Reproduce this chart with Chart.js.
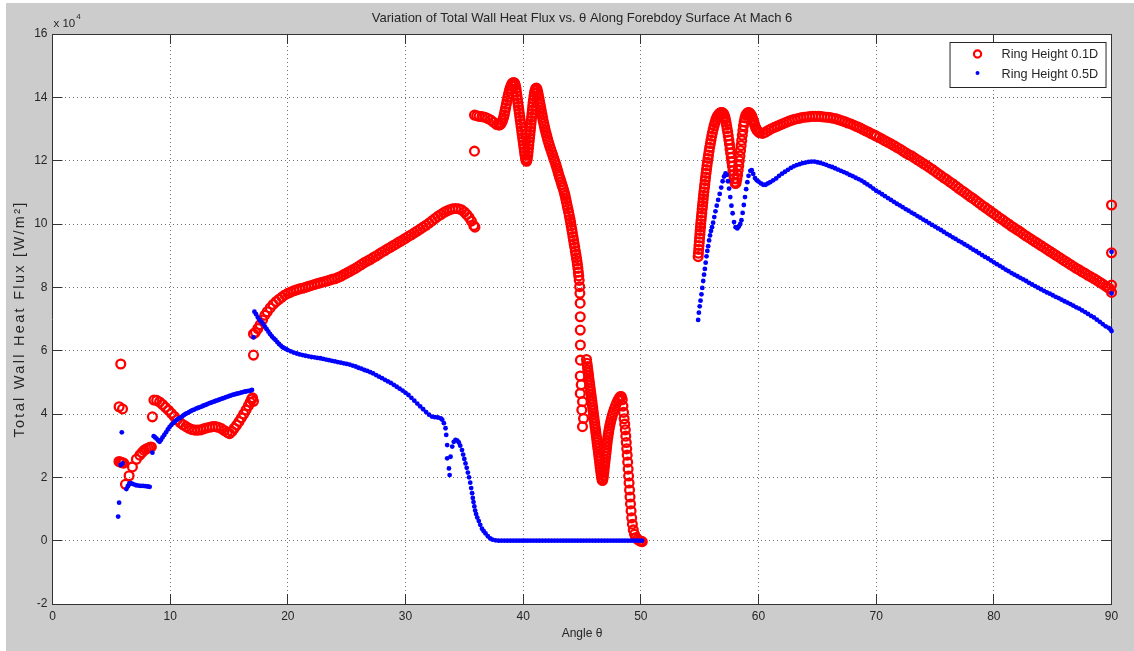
<!DOCTYPE html>
<html>
<head>
<meta charset="utf-8">
<script src="https://cdn.jsdelivr.net/npm/chart.js@4.4.1/dist/chart.umd.min.js"></script>
<style>
  html, body { margin: 0; padding: 0; background: #ffffff; }
  canvas { display: block; }
</style>
</head>
<body>
<canvas id="c" width="1134" height="651"></canvas>
<script>
// ---------------- DATA (values in units of 10^4 W/m^2, angle in degrees) ----------------
const chartTitle = 'Variation of Total Wall Heat Flux vs. \u03B8 Along Forebdoy Surface At Mach 6';
const xAxisTitle = 'Angle \u03B8';
const yAxisTitle = 'Total Wall Heat Flux [W/m\u00B2]';
const yScaleNote = ['x 10', '4'];
const seriesLabels = ['Ring Height 0.1D', 'Ring Height 0.5D'];
const xTickValues = [0, 10, 20, 30, 40, 50, 60, 70, 80, 90];
const yTickValues = [-2, 0, 2, 4, 6, 8, 10, 12, 14, 16];

// Ring Height 0.1D (red open circles)
const red_near6 = [[5.80,5.58],[5.66,4.23],[5.95,4.16],[5.65,2.50],[5.78,2.48],[5.92,2.46],[6.05,2.45],[6.20,1.78],[6.51,2.05],[6.79,2.33],[7.13,2.57],[7.42,2.70],[7.60,2.78],[7.78,2.85],[7.95,2.89],[8.12,2.92],[8.28,2.95],[8.40,2.96],[8.49,3.91]];
const red_9to17 = [[8.62,4.44],[8.85,4.43],[9.10,4.38],[9.35,4.30],[9.60,4.21],[9.85,4.12],[10.10,4.02],[10.35,3.92],[10.60,3.82],[10.85,3.73],[11.10,3.66],[11.35,3.60],[11.60,3.55],[11.85,3.51],[12.10,3.49],[12.35,3.49],[12.60,3.50],[12.85,3.53],[13.10,3.56],[13.35,3.58],[13.60,3.60],[13.85,3.60],[14.10,3.58],[14.35,3.54],[14.60,3.48],[14.85,3.42],[15.05,3.38],[15.25,3.45],[15.45,3.55],[15.65,3.65],[15.85,3.76],[16.05,3.88],[16.25,4.00],[16.45,4.13],[16.65,4.26],[16.80,4.37],[16.92,4.47],[17.00,4.51],[17.08,4.40],[17.08,5.86]];
const red_17to36 = [[17.08,6.53],[17.25,6.58],[17.45,6.70],[17.65,6.82],[17.85,6.97],[18.05,7.12],[18.25,7.23],[18.50,7.35],[18.75,7.46],[19.00,7.55],[19.25,7.62],[19.50,7.69],[19.75,7.76],[20.00,7.81],[20.25,7.85],[20.50,7.89],[20.75,7.92],[21.00,7.95],[21.25,7.97],[21.50,8.00],[21.75,8.03],[22.00,8.06],[22.25,8.09],[22.50,8.12],[22.75,8.14],[23.00,8.17],[23.25,8.19],[23.50,8.22],[23.75,8.25],[24.00,8.27],[24.25,8.31],[24.50,8.35],[24.75,8.40],[25.00,8.45],[25.25,8.50],[25.50,8.55],[25.75,8.60],[26.00,8.66],[26.25,8.72],[26.50,8.78],[26.75,8.83],[27.00,8.88],[27.25,8.94],[27.50,8.99],[27.75,9.05],[28.00,9.11],[28.25,9.16],[28.50,9.22],[28.75,9.27],[29.00,9.33],[29.25,9.38],[29.50,9.44],[29.75,9.49],[30.00,9.55],[30.25,9.61],[30.50,9.66],[30.75,9.72],[31.00,9.78],[31.25,9.84],[31.50,9.90],[31.75,9.96],[32.00,10.03],[32.25,10.10],[32.50,10.17],[32.75,10.24],[33.00,10.30],[33.25,10.36],[33.50,10.41],[33.75,10.45],[34.00,10.48],[34.25,10.49],[34.50,10.48],[34.75,10.45],[35.00,10.38],[35.20,10.30],[35.40,10.21],[35.60,10.09],[35.80,9.95],[35.90,9.90]];
const red_36to45 = [[35.86,12.30],[35.86,13.44],[36.05,13.42],[36.25,13.40],[36.50,13.39],[36.75,13.37],[37.00,13.33],[37.25,13.28],[37.50,13.21],[37.75,13.14],[37.95,13.12],[38.05,13.14],[38.15,13.19],[38.24,13.26],[38.32,13.35],[38.39,13.45],[38.45,13.56],[38.51,13.67],[38.57,13.78],[38.63,13.89],[38.69,14.00],[38.75,14.10],[38.82,14.20],[38.89,14.29],[38.97,14.37],[39.05,14.43],[39.13,14.46],[39.21,14.47],[39.28,14.44],[39.34,14.37],[39.39,14.27],[39.43,14.16],[39.47,14.05],[39.51,13.94],[39.55,13.83],[39.59,13.72],[39.63,13.61],[39.67,13.50],[39.71,13.39],[39.75,13.28],[39.79,13.17],[39.83,13.06],[39.87,12.95],[39.91,12.84],[39.95,12.73],[39.99,12.62],[40.03,12.51],[40.07,12.40],[40.11,12.29],[40.15,12.18],[40.20,12.07],[40.25,12.00],[40.30,11.98],[40.35,12.06],[40.39,12.17],[40.42,12.28],[40.45,12.39],[40.48,12.50],[40.51,12.61],[40.54,12.72],[40.57,12.83],[40.60,12.94],[40.63,13.05],[40.66,13.16],[40.69,13.27],[40.72,13.38],[40.75,13.49],[40.78,13.60],[40.81,13.71],[40.84,13.82],[40.88,13.93],[40.92,14.04],[40.96,14.14],[41.01,14.22],[41.07,14.28],[41.13,14.29],[41.19,14.24],[41.24,14.16],[41.29,14.07],[41.34,13.97],[41.39,13.87],[41.44,13.77],[41.49,13.67],[41.54,13.57],[41.59,13.47],[41.64,13.37],[41.69,13.27],[41.75,13.17],[41.81,13.07],[41.87,12.97],[41.94,12.87],[42.01,12.77],[42.08,12.67],[42.16,12.57],[42.24,12.47],[42.33,12.37],[42.42,12.27],[42.51,12.17],[42.60,12.07],[42.69,11.97],[42.78,11.87],[42.86,11.77],[42.94,11.67],[43.01,11.57],[43.08,11.49],[43.15,11.41],[43.22,11.33],[43.29,11.24],[43.36,11.16],[43.43,11.08],[43.50,10.99],[43.56,10.90],[43.62,10.79],[43.68,10.69],[43.74,10.58],[43.80,10.48],[43.86,10.37],[43.92,10.26],[43.98,10.15],[44.03,10.05],[44.08,9.94],[44.13,9.83],[44.18,9.72],[44.23,9.60],[44.28,9.49],[44.33,9.38],[44.38,9.27],[44.43,9.15],[44.48,9.04],[44.53,8.93],[44.57,8.83],[44.61,8.72],[44.65,8.60],[44.69,8.48],[44.72,8.36],[44.76,8.22],[44.80,8.02],[44.82,7.81],[44.84,7.50],[44.85,7.07],[44.85,6.65],[44.86,6.18],[44.86,5.70],[44.85,5.20],[44.93,4.92],[44.85,4.65],[45.04,4.39],[44.98,4.13],[45.13,3.86],[45.04,3.60]];
const red_45to50 = [[45.38,5.72],[45.42,5.60],[45.46,5.50],[45.49,5.40],[45.53,5.30],[45.56,5.20],[45.59,5.10],[45.63,5.00],[45.66,4.90],[45.70,4.80],[45.73,4.70],[45.77,4.60],[45.80,4.50],[45.84,4.40],[45.87,4.30],[45.91,4.20],[45.94,4.10],[45.97,4.00],[46.01,3.90],[46.04,3.80],[46.08,3.70],[46.11,3.60],[46.15,3.50],[46.18,3.40],[46.22,3.30],[46.25,3.20],[46.28,3.10],[46.32,3.00],[46.35,2.90],[46.39,2.80],[46.42,2.70],[46.45,2.60],[46.49,2.50],[46.52,2.40],[46.55,2.30],[46.58,2.20],[46.62,2.10],[46.66,2.00],[46.70,1.93],[46.74,1.90],[46.78,1.95],[46.82,2.05],[46.85,2.15],[46.88,2.25],[46.91,2.35],[46.94,2.45],[46.97,2.55],[47.00,2.65],[47.03,2.75],[47.06,2.85],[47.09,2.95],[47.12,3.05],[47.15,3.15],[47.19,3.25],[47.23,3.35],[47.27,3.45],[47.32,3.55],[47.37,3.65],[47.43,3.75],[47.50,3.85],[47.57,3.95],[47.65,4.05],[47.74,4.15],[47.84,4.25],[47.95,4.35],[48.06,4.44],[48.16,4.50],[48.26,4.55],[48.34,4.55],[48.42,4.45],[48.48,4.25],[48.53,4.05],[48.58,3.85],[48.63,3.68],[48.68,3.50],[48.72,3.30],[48.76,3.10],[48.80,2.90],[48.84,2.70],[48.88,2.48],[48.92,2.26],[48.96,2.04],[49.00,1.82],[49.04,1.60],[49.08,1.38],[49.12,1.16],[49.17,0.94],[49.22,0.72],[49.28,0.52],[49.36,0.34],[49.46,0.20],[49.58,0.10],[49.72,0.04],[49.88,0.00],[50.02,-0.02],[50.12,-0.03]];
const red_55to60 = [[54.87,8.97],[54.89,9.08],[54.92,9.20],[54.94,9.32],[54.97,9.44],[54.99,9.56],[55.02,9.68],[55.04,9.79],[55.07,9.90],[55.09,10.01],[55.12,10.12],[55.15,10.24],[55.18,10.35],[55.21,10.47],[55.24,10.58],[55.27,10.69],[55.30,10.80],[55.33,10.91],[55.36,11.02],[55.40,11.14],[55.43,11.25],[55.47,11.37],[55.50,11.48],[55.54,11.60],[55.58,11.72],[55.62,11.84],[55.66,11.95],[55.71,12.07],[55.75,12.18],[55.80,12.30],[55.85,12.42],[55.91,12.54],[55.96,12.65],[56.02,12.77],[56.08,12.88],[56.15,12.99],[56.22,13.10],[56.30,13.20],[56.38,13.30],[56.47,13.38],[56.55,13.43],[56.64,13.48],[56.72,13.50],[56.81,13.52],[56.90,13.52],[56.98,13.50],[57.05,13.47],[57.12,13.40],[57.18,13.32],[57.23,13.22],[57.28,13.12],[57.33,13.01],[57.38,12.90],[57.43,12.78],[57.48,12.65],[57.53,12.52],[57.58,12.38],[57.63,12.24],[57.68,12.10],[57.73,11.96],[57.78,11.82],[57.83,11.68],[57.88,11.55],[57.93,11.43],[57.98,11.32],[58.04,11.28],[58.10,11.30],[58.16,11.42],[58.22,11.55],[58.27,11.70],[58.32,11.85],[58.37,12.00],[58.42,12.15],[58.47,12.32],[58.52,12.48],[58.57,12.64],[58.62,12.80],[58.67,12.95],[58.72,13.10],[58.78,13.23],[58.85,13.35],[58.92,13.43],[59.00,13.48],[59.08,13.51],[59.15,13.52],[59.23,13.51],[59.30,13.48],[59.38,13.44],[59.45,13.38],[59.52,13.30],[59.60,13.22],[59.67,13.13],[59.75,13.05],[59.82,12.99],[59.90,12.95],[60.00,12.91]];
const red_60to90 = [[60.10,12.88],[60.35,12.86],[60.60,12.90],[60.85,12.96],[61.10,13.01],[61.35,13.05],[61.60,13.09],[61.85,13.13],[62.10,13.17],[62.35,13.21],[62.60,13.25],[62.85,13.28],[63.10,13.31],[63.35,13.33],[63.60,13.35],[63.85,13.37],[64.10,13.38],[64.35,13.39],[64.60,13.40],[64.85,13.40],[65.10,13.40],[65.35,13.39],[65.60,13.38],[65.85,13.37],[66.10,13.36],[66.35,13.34],[66.60,13.32],[66.85,13.29],[67.10,13.26],[67.35,13.23],[67.60,13.19],[67.85,13.16],[68.10,13.12],[68.35,13.08],[68.60,13.04],[68.85,12.99],[69.10,12.94],[69.35,12.90],[69.60,12.85],[69.85,12.81],[70.00,12.78],[70.25,12.73],[70.50,12.68],[70.75,12.63],[71.00,12.58],[71.25,12.53],[71.50,12.48],[71.75,12.42],[72.00,12.37],[72.25,12.31],[72.50,12.25],[72.75,12.19],[73.00,12.15],[73.25,12.09],[73.50,12.03],[73.75,11.97],[74.00,11.91],[74.25,11.85],[74.50,11.79],[74.75,11.73],[75.00,11.66],[75.25,11.59],[75.50,11.53],[75.75,11.46],[76.00,11.40],[76.25,11.33],[76.50,11.27],[76.75,11.20],[77.00,11.13],[77.25,11.06],[77.50,11.00],[77.75,10.93],[78.00,10.86],[78.25,10.80],[78.50,10.73],[78.75,10.66],[79.00,10.59],[79.25,10.53],[79.50,10.46],[79.75,10.39],[80.00,10.33],[80.25,10.26],[80.50,10.19],[80.75,10.13],[81.00,10.06],[81.25,10.00],[81.50,9.93],[81.75,9.87],[82.00,9.81],[82.25,9.75],[82.50,9.68],[82.75,9.62],[83.00,9.56],[83.25,9.50],[83.50,9.44],[83.75,9.38],[84.00,9.32],[84.25,9.26],[84.50,9.20],[84.75,9.14],[85.00,9.08],[85.25,9.02],[85.50,8.96],[85.75,8.90],[86.00,8.84],[86.25,8.78],[86.50,8.72],[86.75,8.66],[87.00,8.60],[87.25,8.55],[87.50,8.49],[87.75,8.44],[88.00,8.38],[88.25,8.33],[88.50,8.28],[88.75,8.22],[89.00,8.16],[89.25,8.10],[89.50,8.04],[89.70,7.99],[89.85,7.95],[90.00,7.84],[90.00,8.07],[90.00,9.09],[90.00,10.60]];

// Ring Height 0.5D (blue dots)
const blue_near6 = [[5.58,0.76],[5.66,1.20],[5.80,2.39],[5.95,2.44],[5.89,3.42],[6.28,1.63],[6.40,1.72],[6.52,1.80],[6.63,1.82],[6.75,1.80],[6.90,1.78],[7.10,1.75],[7.30,1.74],[7.50,1.73],[7.70,1.73],[7.90,1.72],[8.10,1.71],[8.26,1.70],[8.49,2.78]];
const blue_9to17 = [[8.60,3.30],[8.72,3.26],[8.85,3.22],[8.98,3.16],[9.10,3.12],[9.22,3.18],[9.35,3.26],[9.50,3.34],[9.65,3.42],[9.80,3.51],[9.95,3.59],[10.10,3.65],[10.25,3.71],[10.40,3.76],[10.55,3.81],[10.70,3.85],[10.85,3.88],[11.00,3.92],[11.15,3.96],[11.30,4.00],[11.45,4.03],[11.60,4.06],[11.75,4.09],[11.90,4.12],[12.05,4.14],[12.20,4.17],[12.35,4.19],[12.50,4.21],[12.65,4.23],[12.80,4.26],[12.95,4.28],[13.10,4.30],[13.25,4.33],[13.40,4.35],[13.55,4.37],[13.70,4.39],[13.85,4.41],[14.00,4.43],[14.15,4.45],[14.30,4.47],[14.45,4.49],[14.60,4.51],[14.75,4.53],[14.90,4.55],[15.05,4.57],[15.20,4.59],[15.35,4.61],[15.50,4.62],[15.65,4.64],[15.80,4.65],[15.95,4.67],[16.10,4.68],[16.25,4.70],[16.40,4.71],[16.55,4.72],[16.70,4.73],[16.85,4.74],[16.95,4.76]];
const blue_17to38 = [[17.08,6.42],[17.16,7.23],[17.30,7.15],[17.45,7.05],[17.60,6.97],[17.75,6.91],[17.90,6.84],[18.05,6.76],[18.20,6.68],[18.35,6.60],[18.50,6.52],[18.65,6.45],[18.80,6.39],[18.95,6.34],[19.10,6.27],[19.25,6.21],[19.40,6.16],[19.55,6.11],[19.70,6.08],[19.85,6.05],[20.00,6.02],[20.25,5.98],[20.50,5.94],[20.75,5.91],[21.00,5.88],[21.25,5.86],[21.50,5.84],[21.75,5.82],[22.00,5.80],[22.25,5.79],[22.50,5.77],[22.75,5.76],[23.00,5.74],[23.25,5.72],[23.50,5.70],[23.75,5.68],[24.00,5.66],[24.25,5.64],[24.50,5.62],[24.75,5.60],[25.00,5.58],[25.25,5.56],[25.50,5.53],[25.75,5.50],[26.00,5.46],[26.25,5.43],[26.50,5.39],[26.75,5.36],[27.00,5.32],[27.25,5.28],[27.50,5.23],[27.75,5.18],[28.00,5.13],[28.25,5.08],[28.50,5.03],[28.75,4.98],[29.00,4.92],[29.25,4.86],[29.50,4.80],[29.75,4.74],[30.00,4.67],[30.25,4.60],[30.50,4.51],[30.75,4.42],[31.00,4.33],[31.25,4.24],[31.50,4.15],[31.75,4.06],[32.00,3.98],[32.25,3.92],[32.50,3.90],[32.75,3.89],[33.00,3.86],[33.12,3.82],[33.26,3.71],[33.40,3.55],[33.46,3.34],[33.54,3.02],[33.54,2.60],[33.69,2.28],[33.75,2.07],[33.83,2.65],[33.97,2.97],[34.10,3.12],[34.25,3.18],[34.40,3.16],[34.53,3.10],[34.65,3.00],[34.80,2.86],[34.90,2.72],[35.00,2.58],[35.10,2.44],[35.20,2.30],[35.30,2.15],[35.40,2.00],[35.50,1.83],[35.58,1.66],[35.66,1.50],[35.72,1.35],[35.78,1.22],[35.85,1.08],[35.92,0.95],[36.00,0.84],[36.10,0.73],[36.23,0.62],[36.35,0.50],[36.50,0.38],[36.65,0.30],[36.80,0.23],[37.00,0.14],[37.20,0.07],[37.40,0.03],[37.65,0.01]];
const blue_flat = [[37.90,0],[38.15,0],[38.40,0],[38.65,0],[38.90,0],[39.15,0],[39.40,0],[39.65,0],[39.90,0],[40.15,0],[40.40,0],[40.65,0],[40.90,0],[41.15,0],[41.40,0],[41.65,0],[41.90,0],[42.15,0],[42.40,0],[42.65,0],[42.90,0],[43.15,0],[43.40,0],[43.65,0],[43.90,0],[44.15,0],[44.40,0],[44.65,0],[44.90,0],[45.15,0],[45.40,0],[45.65,0],[45.90,0],[46.15,0],[46.40,0],[46.65,0],[46.90,0],[47.15,0],[47.40,0],[47.65,0],[47.90,0],[48.15,0],[48.40,0],[48.65,0],[48.90,0],[49.15,0],[49.40,0],[49.65,0],[49.90,0],[50.10,0]];
const blue_55to90 = [[54.87,6.97],[54.93,7.20],[55.00,7.40],[55.07,7.58],[55.15,7.78],[55.22,7.98],[55.30,8.20],[55.37,8.40],[55.44,8.58],[55.51,8.78],[55.58,8.98],[55.65,9.15],[55.72,9.30],[55.80,9.48],[55.88,9.64],[55.96,9.78],[56.05,9.90],[56.14,10.04],[56.24,10.22],[56.34,10.40],[56.45,10.58],[56.57,10.76],[56.70,10.95],[56.83,11.15],[56.95,11.35],[57.07,11.50],[57.20,11.60],[57.30,11.55],[57.40,11.35],[57.50,11.12],[57.60,10.85],[57.70,10.58],[57.80,10.34],[57.92,10.06],[58.05,9.90],[58.20,9.86],[58.33,9.92],[58.45,10.00],[58.55,10.12],[58.65,10.35],[58.75,10.60],[58.85,10.85],[58.95,11.10],[59.05,11.32],[59.15,11.52],[59.30,11.68],[59.42,11.70],[59.55,11.58],[59.70,11.45],[59.85,11.38],[60.00,11.34],[60.20,11.28],[60.40,11.24],[60.60,11.24],[60.80,11.28],[61.00,11.32],[61.25,11.38],[61.50,11.44],[61.75,11.52],[62.00,11.59],[62.25,11.65],[62.50,11.71],[62.75,11.77],[63.00,11.82],[63.25,11.86],[63.50,11.89],[63.75,11.92],[64.00,11.94],[64.25,11.96],[64.50,11.97],[64.75,11.97],[65.00,11.95],[65.25,11.93],[65.50,11.90],[65.75,11.87],[66.00,11.83],[66.25,11.80],[66.50,11.76],[66.75,11.72],[67.00,11.68],[67.25,11.64],[67.50,11.60],[67.75,11.55],[68.00,11.51],[68.25,11.46],[68.50,11.42],[68.75,11.37],[69.00,11.31],[69.25,11.25],[69.50,11.19],[69.75,11.12],[70.00,11.05],[70.25,11.00],[70.50,10.94],[70.75,10.88],[71.00,10.82],[71.25,10.76],[71.50,10.70],[71.75,10.64],[72.00,10.59],[72.25,10.53],[72.50,10.47],[72.75,10.42],[73.00,10.36],[73.25,10.31],[73.50,10.25],[73.75,10.20],[74.00,10.14],[74.25,10.09],[74.50,10.03],[74.75,9.97],[75.00,9.92],[75.25,9.86],[75.50,9.81],[75.75,9.75],[76.00,9.69],[76.25,9.64],[76.50,9.58],[76.75,9.53],[77.00,9.47],[77.25,9.42],[77.50,9.36],[77.75,9.31],[78.00,9.25],[78.25,9.19],[78.50,9.14],[78.75,9.08],[79.00,9.02],[79.25,8.96],[79.50,8.91],[79.75,8.85],[80.00,8.79],[80.25,8.73],[80.50,8.68],[80.75,8.62],[81.00,8.56],[81.25,8.51],[81.50,8.45],[81.75,8.40],[82.00,8.35],[82.25,8.30],[82.50,8.25],[82.75,8.20],[83.00,8.14],[83.25,8.09],[83.50,8.04],[83.75,7.99],[84.00,7.94],[84.25,7.89],[84.50,7.84],[84.75,7.80],[85.00,7.75],[85.25,7.70],[85.50,7.66],[85.75,7.61],[86.00,7.56],[86.25,7.52],[86.50,7.47],[86.75,7.42],[87.00,7.37],[87.25,7.33],[87.50,7.27],[87.75,7.22],[88.00,7.16],[88.25,7.10],[88.50,7.05],[88.75,6.98],[89.00,6.91],[89.25,6.84],[89.50,6.77],[89.75,6.72],[89.90,6.68],[90.00,6.62],[90.00,7.81],[90.00,9.12]];

// ---------------- CHART ----------------
const toPts = (...parts) => [].concat(...parts).map(([x, y]) => ({x, y}));
const FONT = '"Liberation Sans", Arial, Helvetica, sans-serif';
Chart.defaults.font.family = FONT;
Chart.defaults.font.size = 12;
Chart.defaults.color = '#262626';

const figurePlugin = {
  id: 'matlabFigure',
  beforeDraw(chart) {
    const {ctx, chartArea: a, width, height} = chart;
    ctx.save();
    ctx.fillStyle = '#ffffff';
    ctx.fillRect(0, 0, width, height);
    ctx.fillStyle = '#cccccc';
    ctx.fillRect(6, 3, width - 6, height - 3);
    ctx.fillStyle = '#ffffff';
    ctx.fillRect(a.left, a.top, a.right - a.left, a.bottom - a.top);
    ctx.restore();
  },
  afterDraw(chart) {
    const {ctx, chartArea: a} = chart;
    ctx.save();
    // y-axis title (letter-spaced, rotated, like the exported figure)
    ctx.save();
    ctx.translate(19.5, (a.top + a.bottom) / 2);
    ctx.rotate(-Math.PI / 2);
    ctx.fillStyle = '#262626';
    ctx.font = '14.5px ' + FONT;
    if ('letterSpacing' in ctx) ctx.letterSpacing = '2.3px';
    ctx.textAlign = 'center';
    ctx.textBaseline = 'middle';
    ctx.fillText(yAxisTitle, 0, 0);
    ctx.restore();
    // exponent note
    ctx.fillStyle = '#262626';
    ctx.textBaseline = 'alphabetic';
    ctx.textAlign = 'left';
    ctx.font = '11.5px ' + FONT;
    ctx.fillText(yScaleNote[0], a.left + 1, a.top - 7);
    const w = ctx.measureText(yScaleNote[0]).width;
    ctx.font = '8px ' + FONT;
    ctx.fillText(yScaleNote[1], a.left + 1 + w + 1, a.top - 15);
    // legend
    const bx = a.right - 162, by = a.top + 8, bw = 156, bh = 45;
    ctx.fillStyle = '#ffffff';
    ctx.fillRect(bx, by, bw, bh);
    ctx.strokeStyle = '#262626';
    ctx.lineWidth = 1;
    ctx.strokeRect(bx + 0.5, by + 0.5, bw, bh);
    ctx.beginPath();
    ctx.arc(bx + 28, by + 12, 3.6, 0, Math.PI * 2);
    ctx.strokeStyle = '#ff0000';
    ctx.lineWidth = 2.2;
    ctx.stroke();
    ctx.beginPath();
    ctx.arc(bx + 28, by + 31, 2, 0, Math.PI * 2);
    ctx.fillStyle = '#0000ff';
    ctx.fill();
    ctx.fillStyle = '#262626';
    ctx.font = '12.7px ' + FONT;
    ctx.textBaseline = 'middle';
    ctx.fillText(seriesLabels[0], bx + 52, by + 12);
    ctx.fillText(seriesLabels[1], bx + 52, by + 32);
    ctx.restore();
  }
};

const gridMain = {display: true, drawOnChartArea: true, drawTicks: true, tickLength: -10,
  color: '#6e6e6e', lineWidth: 1, tickColor: '#333333', tickWidth: 1};
const gridSide = {display: true, drawOnChartArea: false, drawTicks: true, tickLength: -10,
  color: '#6e6e6e', lineWidth: 1, tickColor: '#333333', tickWidth: 1};
const borderCfg = {display: true, color: '#333333', width: 1, dash: [1, 3]};
const setX = s => { s.ticks = xTickValues.map(v => ({value: v})); };
const setY = s => { s.ticks = yTickValues.map(v => ({value: v})); };

new Chart(document.getElementById('c'), {
  type: 'scatter',
  data: {
    datasets: [
      {
        label: seriesLabels[0],
        data: toPts(red_near6, red_9to17, red_17to36, red_36to45, red_45to50, red_55to60, red_60to90),
        pointStyle: 'circle', pointRadius: 4.4, pointBorderWidth: 2.3,
        borderColor: '#ff0000', backgroundColor: 'rgba(0,0,0,0)',
        pointBackgroundColor: 'rgba(0,0,0,0)', pointBorderColor: '#ff0000',
        showLine: false, clip: false, order: 2
      },
      {
        label: seriesLabels[1],
        data: toPts(blue_near6, blue_9to17, blue_17to38, blue_flat, blue_55to90),
        pointStyle: 'circle', pointRadius: 2.4, pointBorderWidth: 0,
        borderColor: '#0000ff', backgroundColor: '#0000ff',
        pointBackgroundColor: '#0000ff', pointBorderColor: '#0000ff',
        showLine: false, clip: false, order: 1
      }
    ]
  },
  options: {
    responsive: false,
    animation: false,
    events: [],
    devicePixelRatio: 1,
    layout: {padding: {left: 6, right: 21, top: 0, bottom: 3}},
    plugins: {
      legend: {display: false},
      tooltip: {enabled: false},
      title: {
        display: true, text: chartTitle, fullSize: false,
        color: '#262626', font: {size: 13, weight: 'normal', family: FONT},
        padding: {top: 10.5, bottom: 7.9}
      }
    },
    scales: {
      x: {
        type: 'linear', position: 'bottom', min: 0, max: 90,
        afterBuildTicks: setX,
        afterFit: s => { s.height = 44; },
        grid: gridMain, border: borderCfg,
        ticks: {padding: 15.8, maxRotation: 0, autoSkip: false, color: '#262626', font: {size: 12}, callback: v => String(v)},
        title: {display: true, text: xAxisTitle, color: '#262626', font: {size: 12}, padding: {top: 0, bottom: 6.8}}
      },
      y: {
        type: 'linear', position: 'left', min: -2, max: 16,
        afterBuildTicks: setY,
        afterFit: s => { s.width = 46.5; },
        grid: gridMain, border: borderCfg,
        ticks: {padding: 15, autoSkip: false, color: '#262626', font: {size: 12}, callback: v => String(v)},
        title: {display: false, text: yAxisTitle}
      },
      x2: {
        type: 'linear', position: 'top', min: 0, max: 90,
        afterBuildTicks: setX,
        afterFit: s => { s.height = 0; },
        grid: gridSide, border: borderCfg,
        ticks: {display: false}
      },
      y2: {
        type: 'linear', position: 'right', min: -2, max: 16,
        afterBuildTicks: setY,
        afterFit: s => { s.width = 0; },
        grid: gridSide, border: borderCfg,
        ticks: {display: false}
      }
    }
  },
  plugins: [figurePlugin]
});
</script>
</body>
</html>
